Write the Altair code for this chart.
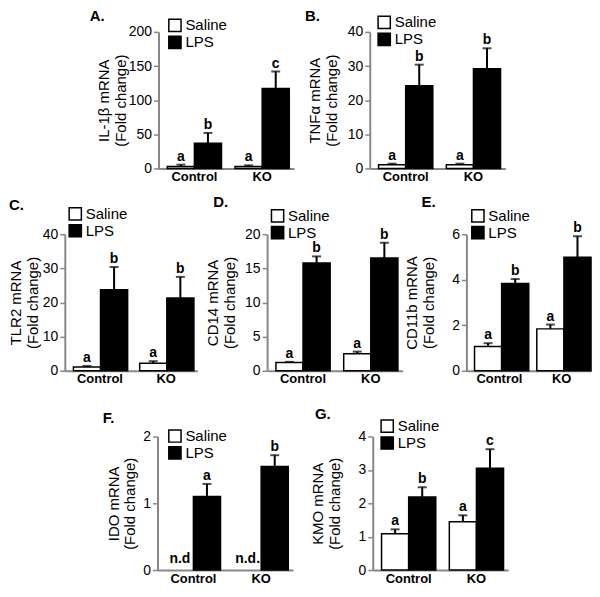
import altair as alt
import pandas as pd

FONT = "Liberation Sans"

groups = ["Control", "KO"]
treatments = ["Saline", "LPS"]

# order of values: Control-Saline, Control-LPS, KO-Saline, KO-LPS
il1b_mean = [3, 37, 3, 117]
il1b_sem = [2.5, 15, 1.5, 25]
il1b_sig = ["a", "b", "a", "c"]

tnf_mean = [1.1, 24.2, 1.1, 29.2]
tnf_sem = [0.3, 6.2, 0.3, 6.0]
tnf_sig = ["a", "b", "a", "b"]

tlr2_mean = [1.1, 23.7, 2.2, 21.3]
tlr2_sem = [0.3, 6.7, 0.6, 6.2]
tlr2_sig = ["a", "b", "a", "b"]

cd14_mean = [1.2, 15.8, 2.5, 16.5]
cd14_sem = [0.1, 0.95, 0.3, 2.25]
cd14_sig = ["a", "b", "a", "b"]

cd11b_mean = [1.07, 3.83, 1.84, 4.99]
cd11b_sem = [0.14, 0.2, 0.19, 0.92]
cd11b_sig = ["a", "b", "a", "b"]

ido_mean = [None, 1.1, None, 1.55]
ido_sem = [None, 0.19, None, 0.17]
ido_sig = ["", "a", "", "b"]
ido_nd = ["n.d", "", "n.d.", ""]

kmo_mean = [1.09, 2.19, 1.45, 3.05]
kmo_sem = [0.13, 0.29, 0.19, 0.57]
kmo_sig = ["a", "b", "a", "c"]


def make_df(means, sems, sigs, nd=None):
    rows = []
    i = 0
    for g in groups:
        for t in treatments:
            m = means[i]
            s = sems[i]
            rows.append(dict(group=g, treatment=t, mean=m,
                             top=(m + s) if m is not None else None,
                             sig=sigs[i], nd=(nd[i] if nd else "")))
            i += 1
    return pd.DataFrame(rows)


def panel(df, ymax, yticks, ytitle, letter, w, h, lx, ly, tdx, tdy,
          title_x=-47, title_lh=17, label_expr=None, nd=False):
    xscale = alt.Scale(domain=groups, paddingInner=0.2, paddingOuter=0.1, align=0.65)
    xaxis = alt.Axis(title=None, ticks=False, labelFontSize=13, labelFontWeight="bold",
                     labelPadding=2, domainWidth=2, labelAngle=0, labelFont=FONT)
    x = alt.X("group:N", scale=xscale, axis=xaxis)
    xo = alt.XOffset("treatment:N", scale=alt.Scale(domain=treatments))
    yscale = alt.Scale(domain=[0, ymax], nice=False)
    axis_kw = dict(values=yticks, title=ytitle, titleX=title_x, titleY=h / 2,
                   titleBaseline="bottom", titleAlign="center",
                   titleFontSize=15, titleFontWeight="normal", titleLineHeight=title_lh,
                   titleFont=FONT, labelFont=FONT,
                   labelFontSize=14, tickSize=5, tickWidth=1.5, domainWidth=2,
                   labelPadding=2, grid=False)
    if label_expr:
        axis_kw["labelExpr"] = label_expr
    yaxis = alt.Axis(**axis_kw)

    base = alt.Chart(df).transform_filter("isValid(datum.mean)")
    bars = base.mark_bar(stroke="black", strokeWidth=1.5).encode(
        x=x, xOffset=xo,
        y=alt.Y("mean:Q", scale=yscale, axis=yaxis),
        fill=alt.Fill("treatment:N",
                      scale=alt.Scale(domain=treatments, range=["white", "black"]),
                      legend=alt.Legend(orient="none", legendX=lx, legendY=ly, title=None,
                                        symbolType="square", symbolSize=150,
                                        symbolStrokeColor="black", symbolStrokeWidth=1.5,
                                        labelFontSize=15, labelFont=FONT, labelOffset=3,
                                        rowPadding=-4, padding=0)),
    )
    err = base.mark_rule(color="black", strokeWidth=2).encode(
        x=x, xOffset=xo,
        y=alt.Y("mean:Q", scale=yscale, axis=yaxis), y2="top:Q")
    cap = base.mark_tick(color="black", thickness=2, size=9).encode(
        x=x, xOffset=xo, y=alt.Y("top:Q", scale=yscale, axis=yaxis))
    sig = base.mark_text(fontSize=14, fontWeight="bold", baseline="alphabetic", dy=-4,
                         font=FONT, color="black").encode(
        x=x, xOffset=xo, y=alt.Y("top:Q", scale=yscale, axis=yaxis), text="sig:N")
    layers = [bars, err, cap, sig]
    if nd:
        ndl = alt.Chart(df).transform_filter("datum.nd != ''").mark_text(
            fontSize=14, fontWeight="bold", baseline="alphabetic", dy=-7,
            font=FONT, color="black").encode(
            x=x, xOffset=xo, y=alt.datum(0), text="nd:N")
        layers.append(ndl)
    return alt.layer(*layers).properties(
        width=w, height=h,
        title=alt.TitleParams(text=letter, anchor="start", frame="group", orient="top",
                              offset=0, dx=tdx, dy=tdy, fontSize=15, fontWeight="bold",
                              font=FONT, color="black"))


def spacer(w, h, top=0):
    # invisible placeholder that fixes the row's left / top edge
    return alt.Chart(pd.DataFrame({"v": [0]})).mark_point(
        opacity=0, filled=True, size=1).encode(
        x=alt.value(0), y=alt.value(top)).properties(width=w, height=h)


H1, H2, H3 = 137, 137, 134

pA = panel(make_df(il1b_mean, il1b_sem, il1b_sig), 200, [0, 50, 100, 150, 200],
           ["IL-1\u03b2 mRNA", "(Fold change)"], "A.", 136, H1, 9, -14, -69, 6)
pB = panel(make_df(tnf_mean, tnf_sem, tnf_sig), 40, [0, 10, 20, 30, 40],
           ["TNF\u03b1 mRNA", "(Fold change)"], "B.", 136, H1, 7, -17, -65, 9)
pC = panel(make_df(tlr2_mean, tlr2_sem, tlr2_sig), 40, [0, 10, 20, 30, 40],
           ["TLR2 mRNA", "(Fold change)"], "C.", 133, H2, 3, -28, -56, 7, title_x=-41)
pD = panel(make_df(cd14_mean, cd14_sem, cd14_sig), 20, [0, 5, 10, 15, 20],
           ["CD14 mRNA", "(Fold change)"], "D.", 136, H2, 3, -26, -54, 2)
pE = panel(make_df(cd11b_mean, cd11b_sem, cd11b_sig), 6, [0, 2, 4, 6],
           ["CD11b mRNA", "(Fold change)"], "E.", 125, H2, 4, -26, -45, 2)
pF = panel(make_df(ido_mean, ido_sem, ido_sig, ido_nd), 2, [0, 0.5, 1, 1.5, 2],
           ["IDO mRNA", "(Fold change)"], "F.", 136, H3, 10, -8, -55, -3,
           title_x=-36, title_lh=16,
           label_expr="datum.value % 1 === 0 ? datum.value : ''", nd=True)
pG = panel(make_df(kmo_mean, kmo_sem, kmo_sig), 4, [0, 1, 2, 3, 4],
           ["KMO mRNA", "(Fold change)"], "G.", 136, H3, 7, -18, -58, 3)

row1 = alt.hconcat(spacer(150, H1, -22), pA, spacer(76, H1), pB,
                   spacing=0, bounds="flush").resolve_scale(fill="independent")
row2 = alt.hconcat(spacer(56, H2, -40), pC, spacer(70, H2), pD, spacer(64, H2), pE,
                   spacing=0, bounds="flush").resolve_scale(fill="independent")
row3 = alt.hconcat(spacer(149, H3, -40), pF, spacer(80, H3), pG,
                   spacing=0, bounds="flush").resolve_scale(fill="independent")

chart = alt.vconcat(row1, row2, row3, spacing=10).resolve_scale(
    fill="independent").properties(padding=0).configure_view(strokeWidth=0)

chart.save("out.html", embed_options={"renderer": "svg", "actions": False})
